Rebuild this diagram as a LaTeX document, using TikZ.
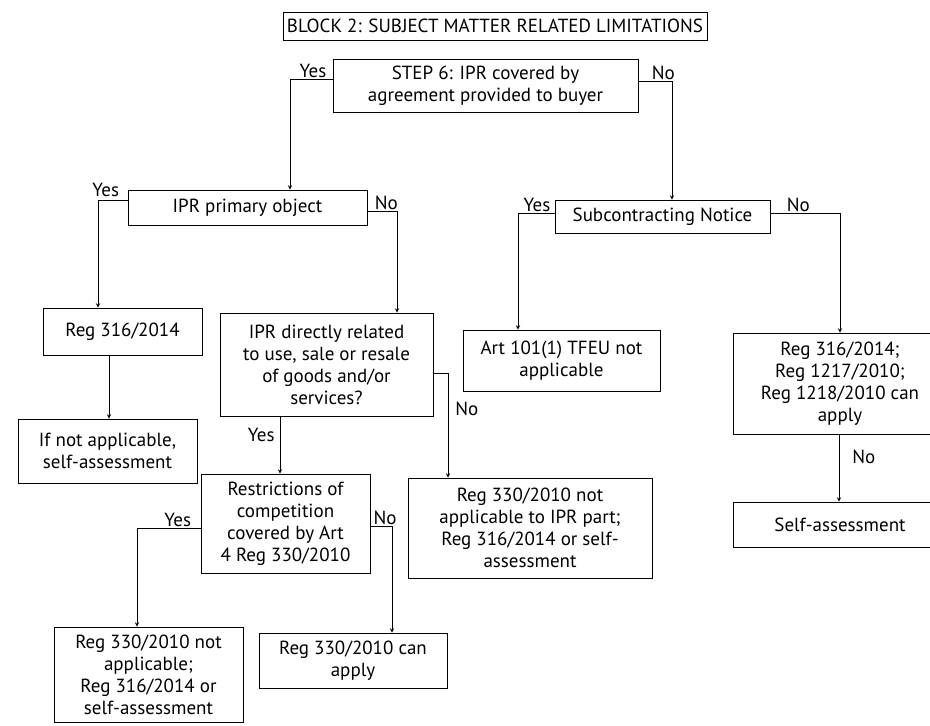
\documentclass[tikz,border=0pt]{standalone}
\usepackage{fontspec}
\setmainfont{PT Sans}
\begin{document}
\begin{tikzpicture}[x=1pt, y=-1pt,
    box/.style={rectangle, draw, line width=0.9pt, inner sep=2pt, align=center, font=\fontsize{19}{22}\selectfont},
    arrow/.style={->, >=stealth, line width=0.9pt},
    lab/.style={font=\fontsize{19}{22}\selectfont, inner sep=1pt}
]
    \useasboundingbox (0,0) rectangle (930,726);
    \clip (0,0) rectangle (930,726);

    % Title
    \node[box, minimum width=424, minimum height=28] (title) at (495,26) {BLOCK 2: SUBJECT MATTER RELATED LIMITATIONS};

    % Step 6
    \node[box, minimum width=305, minimum height=53] (step) at (485.5,86) {STEP 6: IPR covered by\\agreement provided to buyer};

    % Second level
    \node[box, minimum width=239, minimum height=35] (prim) at (247.5,207.5) {IPR primary object};
    \node[box, minimum width=215, minimum height=33] (subc) at (662.5,216.5) {Subcontracting Notice};

    % Third level
    \node[box, minimum width=159, minimum height=47] (reg316) at (122.5,331.5) {Reg 316/2014};
    \node[box, minimum width=213, minimum height=103] (ipr) at (326.5,364.5) {IPR directly related\\to use, sale or resale\\of goods and/or\\services?};
    \node[box, minimum width=197, minimum height=61] (art101) at (561.5,360.5) {Art 101(1) TFEU not\\applicable};
    \node[box, minimum width=214, minimum height=101] (regs) at (840,383.5) {Reg 316/2014;\\Reg 1217/2010;\\Reg 1218/2010 can\\apply};

    % Fourth level
    \node[box, minimum width=179, minimum height=64] (ifnot) at (107.5,451) {If not applicable,\\self-assessment};
    \node[box, minimum width=169, minimum height=99] (restr) at (285.5,523.5) {Restrictions of\\competition\\covered by Art\\4 Reg 330/2010};
    \node[box, minimum width=244, minimum height=100] (ipr330) at (530,528) {Reg 330/2010 not\\applicable to IPR part;\\Reg 316/2014 or self-\\assessment};
    \node[box, minimum width=214, minimum height=45] (selfa) at (840,524.5) {Self-assessment};

    % Bottom level
    \node[box, minimum width=189, minimum height=95] (na330) at (148.5,674.5) {Reg 330/2010 not\\applicable;\\Reg 316/2014 or\\self-assessment};
    \node[box, minimum width=188, minimum height=55] (can330) at (353,660.5) {Reg 330/2010 can\\apply};

    % Arrows
    \draw[arrow] (step.west |- 0,79) -| (prim.north -| 290,0) node[lab, pos=0.23, above] (yes1) {Yes};
    \draw[arrow] (step.east |- 0,81) -| (subc.north -| 672,0) node[lab, pos=0.37, above] (no1) {No};
    \draw[arrow] (prim.west |- 0,200) -| (reg316.north -| 98,0) node[lab, pos=0.37, above=2pt] (yes2) {Yes};
    \draw[arrow] (prim.east |- 0,211) -| (ipr.north -| 397,0) node[lab, pos=0.32, above] (no2) {No};
    \draw[arrow] (subc.west |- 0,213) -| (art101.north -| 518,0) node[lab, pos=0.24, above] (yes3) {Yes};
    \draw[arrow] (subc.east |- 0,213) -| (regs.north -| 840,0) node[lab, pos=0.2, above] (no3) {No};
    \draw[arrow] (reg316.south -| 109,0) -- (ifnot.north -| 109,0);
    \draw[arrow] (ipr.south -| 280,0) -- (restr.north -| 280,0) node[lab, pos=0.33, left=4pt] (yes4) {Yes};
    \draw[arrow] (ipr.east |- 0,373) -| (ipr330.north -| 448,0) node[lab, pos=0.67, right=6pt] (no4) {No};
    \draw[arrow] (restr.west |- 0,528) -| (na330.north -| 137,0) node[lab, pos=0.18, above] (yes5) {Yes};
    \draw[arrow] (restr.east |- 0,526) -| (can330.north -| 392,0) node[lab, pos=0.34, above] (no5) {No};
    \draw[arrow] (regs.south -| 839,0) -- (selfa.north -| 839,0) node[lab, pos=0.34, right=12pt] (no6) {No};

\end{tikzpicture}
\end{document}
